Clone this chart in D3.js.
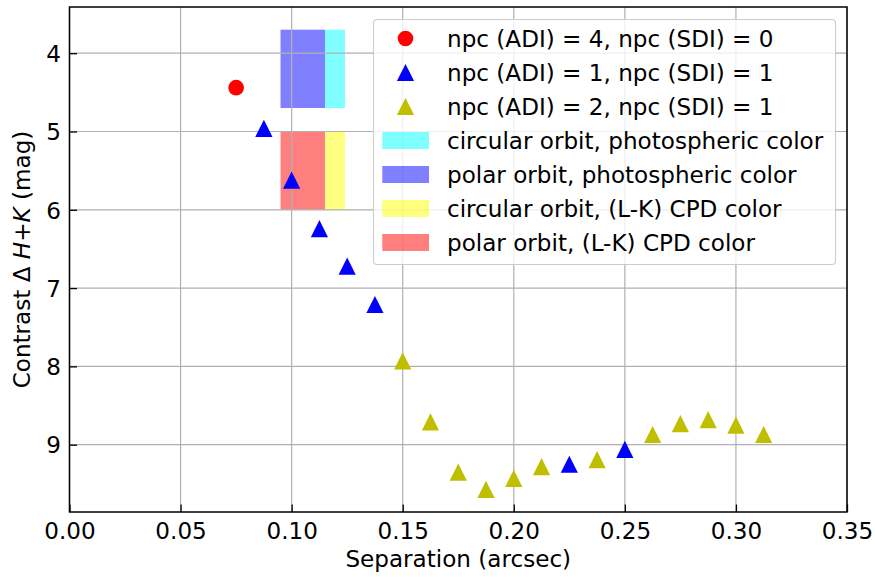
<!DOCTYPE html>
<html>
<head>
<meta charset="utf-8">
<script src="https://cdn.jsdelivr.net/npm/d3@7"></script>
<style>
  html, body { margin: 0; padding: 0; background: #fff; }
  svg { display: block; font-family: "DejaVu Sans", sans-serif; }
</style>
</head>
<body>
<svg id="chart" width="875" height="577"></svg>
<script>
// Detection limits: separation (arcsec) vs. contrast (mag)
const adi4Sep = [0.075];
const adi4Contrast = [4.44];

const adi1Sep = [0.0875, 0.1, 0.1125, 0.125, 0.1375, 0.225, 0.25];
const adi1Contrast = [4.96, 5.62, 6.24, 6.72, 7.21, 9.25, 9.06];

const adi2Sep = [0.15, 0.1625, 0.175, 0.1875, 0.2, 0.2125, 0.2375, 0.2625, 0.275, 0.2875, 0.3, 0.3125];
const adi2Contrast = [7.93, 8.71, 9.35, 9.57, 9.43, 9.28, 9.19, 8.87, 8.73, 8.68, 8.75, 8.87];

// Expected companion brightness ranges: [sepMin, sepMax], [magTop, magBottom]
const regionNames = ["circular orbit, photospheric color", "polar orbit, photospheric color",
                     "circular orbit, (L-K) CPD color", "polar orbit, (L-K) CPD color"];
const regionColors = ["cyan", "blue", "yellow", "red"];
const regionSep = [[0.115, 0.124], [0.095, 0.115], [0.115, 0.124], [0.095, 0.115]];
const regionMag = [[3.7, 4.7], [3.7, 4.7], [5.0, 6.0], [5.0, 6.0]];

const seriesNames = ["npc (ADI) = 4, npc (SDI) = 0", "npc (ADI) = 1, npc (SDI) = 1", "npc (ADI) = 2, npc (SDI) = 1"];
const seriesColors = ["#ff0000", "#0000ff", "#bfbf00"];

const xTicks = [0.00, 0.05, 0.10, 0.15, 0.20, 0.25, 0.30, 0.35];
const yTicks = [4, 5, 6, 7, 8, 9];

const svg = d3.select("#chart");
const margin = { left: 69.5, right: 847, top: 7, bottom: 512 };
const FS = 23.1;

const x = d3.scaleLinear().domain([0, 0.35]).range([margin.left, margin.right]);
const y = d3.scaleLinear().domain([3.41, 9.86]).range([margin.top, margin.bottom]);

const plot = svg.append("g");

// filled ranges
regionNames.forEach((n, i) => {
  plot.append("rect")
    .attr("x", x(regionSep[i][0]))
    .attr("width", x(regionSep[i][1]) - x(regionSep[i][0]))
    .attr("y", y(regionMag[i][0]))
    .attr("height", y(regionMag[i][1]) - y(regionMag[i][0]))
    .attr("fill", regionColors[i])
    .attr("fill-opacity", 0.5);
});

// grid
const grid = svg.append("g").attr("stroke", "#b0b0b0").attr("stroke-width", 1.2);
xTicks.forEach(t => grid.append("line")
  .attr("x1", x(t)).attr("x2", x(t)).attr("y1", margin.top).attr("y2", margin.bottom));
yTicks.forEach(t => grid.append("line")
  .attr("x1", margin.left).attr("x2", margin.right).attr("y1", y(t)).attr("y2", y(t)));

// markers
const h = 8.6;
const tri = (cx, cy, s) => `M${cx},${cy - s}L${cx + s},${cy + s}L${cx - s},${cy + s}Z`;
const marks = svg.append("g");
adi4Sep.forEach((s, i) => marks.append("circle")
  .attr("cx", x(s)).attr("cy", y(adi4Contrast[i])).attr("r", 7.8).attr("fill", seriesColors[0]));
adi1Sep.forEach((s, i) => marks.append("path")
  .attr("d", tri(x(s), y(adi1Contrast[i]), h)).attr("fill", seriesColors[1]));
adi2Sep.forEach((s, i) => marks.append("path")
  .attr("d", tri(x(s), y(adi2Contrast[i]), h)).attr("fill", seriesColors[2]));

// axes
const xAxis = d3.axisBottom(x).tickValues(xTicks).tickFormat(d3.format(".2f"))
  .tickSizeInner(-7.5).tickSizeOuter(0).tickPadding(17);
const yAxis = d3.axisLeft(y).tickValues(yTicks).tickFormat(d3.format("d"))
  .tickSizeInner(-7.5).tickSizeOuter(0).tickPadding(17);

const gx = svg.append("g").attr("transform", `translate(0,${margin.bottom})`).call(xAxis);
const gy = svg.append("g").attr("transform", `translate(${margin.left},0)`).call(yAxis);
[gx, gy].forEach(g => {
  g.select(".domain").remove();
  g.selectAll("line").attr("stroke", "#000").attr("stroke-width", 1.3);
  g.selectAll("text").attr("font-size", FS).attr("fill", "#000")
    .attr("font-family", "DejaVu Sans");
});
gx.selectAll("text").attr("dy", "0.71em").attr("y", 10.5);
gy.selectAll("text").attr("x", -8.5).attr("dy", "0.36em");

// frame
svg.append("rect")
  .attr("x", margin.left).attr("y", margin.top)
  .attr("width", margin.right - margin.left).attr("height", margin.bottom - margin.top)
  .attr("fill", "none").attr("stroke", "#000").attr("stroke-width", 1.5);

// axis labels
svg.append("text")
  .attr("x", (margin.left + margin.right) / 2).attr("y", 567)
  .attr("text-anchor", "middle").attr("font-size", FS)
  .text("Separation (arcsec)");

const yl = svg.append("text")
  .attr("transform", `translate(30,${(margin.top + margin.bottom) / 2}) rotate(-90)`)
  .attr("text-anchor", "middle").attr("font-size", FS);
yl.append("tspan").text("Contrast Δ ");
yl.append("tspan").attr("font-style", "italic").text("H");
yl.append("tspan").text("+");
yl.append("tspan").attr("font-style", "italic").text("K");
yl.append("tspan").text(" (mag)");

// legend
const lg = svg.append("g");
lg.append("rect")
  .attr("x", 373.5).attr("y", 19.5).attr("width", 462).attr("height", 245)
  .attr("rx", 3.5).attr("fill", "#fff").attr("fill-opacity", 0.8)
  .attr("stroke", "#cccccc").attr("stroke-width", 1.1);

const rowY = i => 38.5 + i * 34;
const textX = 447;
lg.append("circle").attr("cx", 405.5).attr("cy", rowY(0)).attr("r", 7.8).attr("fill", seriesColors[0]);
lg.append("path").attr("d", tri(405.5, rowY(1), h)).attr("fill", seriesColors[1]);
lg.append("path").attr("d", tri(405.5, rowY(2), h)).attr("fill", seriesColors[2]);
seriesNames.forEach((n, i) => lg.append("text")
  .attr("x", textX).attr("y", rowY(i)).attr("dy", "0.36em").attr("font-size", FS).text(n));
regionNames.forEach((n, i) => {
  lg.append("rect").attr("x", 382.3).attr("y", rowY(i + 3) - 8.5)
    .attr("width", 46.7).attr("height", 17)
    .attr("fill", regionColors[i]).attr("fill-opacity", 0.5);
  lg.append("text")
    .attr("x", textX).attr("y", rowY(i + 3)).attr("dy", "0.36em").attr("font-size", FS).text(n);
});
</script>
</body>
</html>
